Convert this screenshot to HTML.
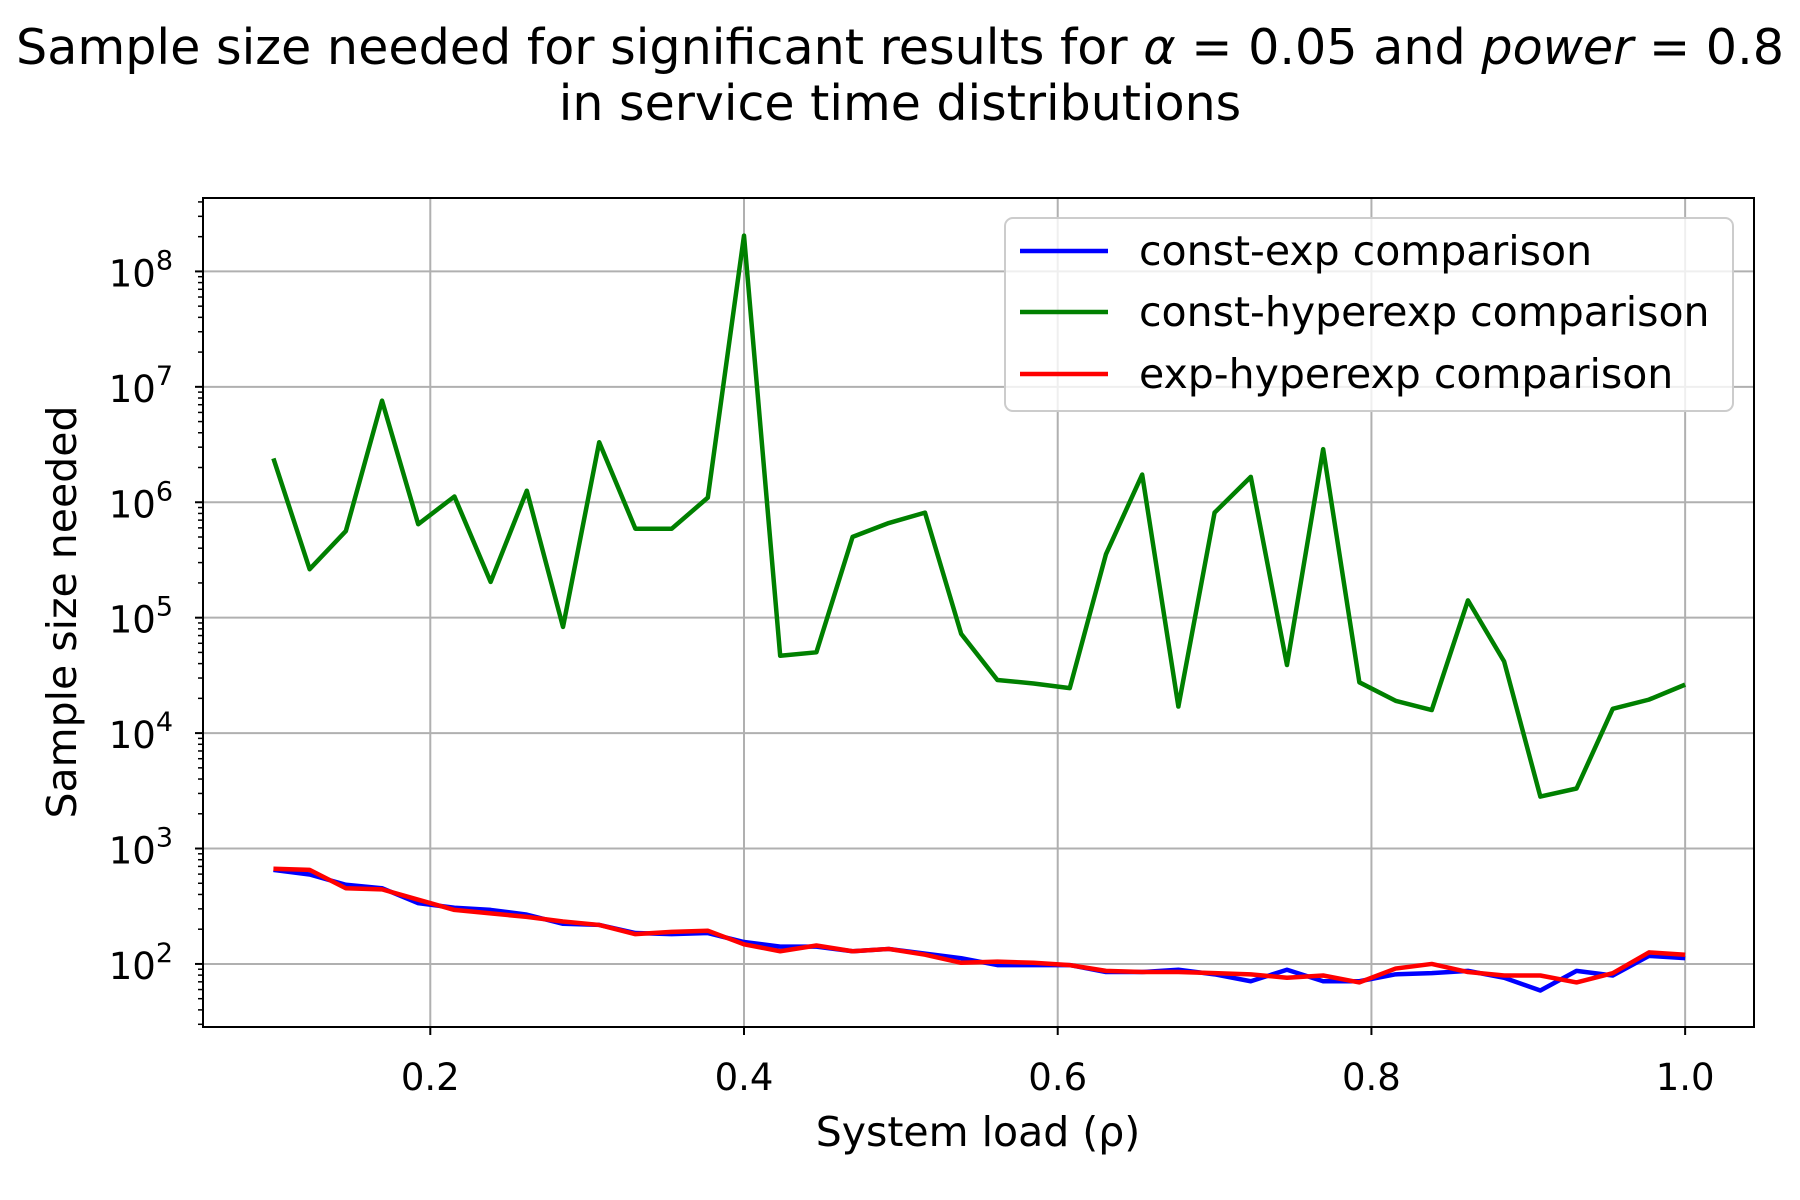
<!DOCTYPE html>
<html><head><meta charset="utf-8"><style>
body{margin:0;background:#fff}
svg{display:block;font-family:"DejaVu Sans","Liberation Sans",sans-serif}
</style></head><body>
<svg id="chart" width="1800" height="1200" viewBox="0 0 1800 1200" xmlns="http://www.w3.org/2000/svg">
<rect width="1800" height="1200" fill="#fff"/>
<text x="900" y="64" font-size="49" text-anchor="middle" textLength="1768" lengthAdjust="spacingAndGlyphs">Sample size needed for significant results for <tspan font-style="italic">α</tspan> = 0.05 and <tspan font-style="italic">power</tspan> = 0.8</text>
<text x="900" y="120" font-size="49" text-anchor="middle">in service time distributions</text>
<g id="grid"></g>
<g id="series"></g>
<g id="axes"></g>
<text x="978" y="1146" font-size="41" text-anchor="middle">System load (ρ)</text>
<text transform="translate(76,612) rotate(-90)" font-size="41" text-anchor="middle">Sample size needed</text>
<g>
<rect x="1005" y="218" width="728" height="193" rx="8" fill="#fff" fill-opacity="0.8" stroke="#ccc" stroke-width="2"/>
<line x1="1020" y1="251" x2="1108" y2="251" stroke="#0000ff" stroke-width="4.5"/>
<text x="1139" y="265" font-size="41">const-exp comparison</text>
<line x1="1020" y1="312" x2="1108" y2="312" stroke="#008000" stroke-width="4.5"/>
<text x="1139" y="326" font-size="41">const-hyperexp comparison</text>
<line x1="1020" y1="374" x2="1108" y2="374" stroke="#ff0000" stroke-width="4.5"/>
<text x="1139" y="388" font-size="41">exp-hyperexp comparison</text>
</g>
</svg>
<script>
const loads = Array.from({length:40},(_, i)=>0.1+i*0.9/39);
const constHyperexpLog = [6.38,5.42,5.75,6.88,5.81,6.05,5.31,6.10,4.92,6.52,5.77,5.77,6.04,8.31,4.67,4.70,5.70,5.82,5.91,4.86,4.46,4.43,4.39,5.55,6.24,4.23,5.91,6.22,4.59,6.46,4.44,4.28,4.20,5.15,4.62,3.45,3.52,4.21,4.29,4.42];
const constExpLog = [2.815,2.775,2.686,2.656,2.527,2.487,2.468,2.427,2.348,2.338,2.268,2.258,2.268,2.19,2.15,2.15,2.11,2.13,2.09,2.05,1.99,1.99,1.99,1.93,1.93,1.95,1.91,1.85,1.95,1.85,1.85,1.91,1.92,1.94,1.88,1.77,1.94,1.90,2.07,2.05];
const expHyperexpLog = [2.825,2.815,2.656,2.646,2.557,2.468,2.438,2.408,2.368,2.338,2.258,2.278,2.288,2.17,2.11,2.16,2.11,2.13,2.08,2.01,2.02,2.01,1.99,1.94,1.93,1.93,1.92,1.91,1.88,1.90,1.84,1.96,2.00,1.93,1.90,1.90,1.84,1.92,2.10,2.08];
const xTicks = [0.2,0.4,0.6,0.8,1.0];
const yDecades = [2,3,4,5,6,7,8];

const NS="http://www.w3.org/2000/svg";
const L=203,R=1754,T=198,B=1027;
const xMin=0.0551,xMax=1.0439,yMin=1.4537,yMax=8.636;
const xs=v=>L+(v-xMin)/(xMax-xMin)*(R-L);
const ys=v=>B-(v-yMin)/(yMax-yMin)*(B-T);
function mk(tag,attrs,parent){const e=document.createElementNS(NS,tag);for(const k in attrs)e.setAttribute(k,attrs[k]);parent.appendChild(e);return e;}
const grid=document.getElementById('grid'),axes=document.getElementById('axes'),ser=document.getElementById('series');
xTicks.forEach(t=>{
  const g=mk('line',{x1:xs(t),x2:xs(t),y1:T,y2:B,stroke:'#b0b0b0','stroke-width':2},grid);
  
  
  mk('line',{x1:xs(t),x2:xs(t),y1:B,y2:B+8,stroke:'#000','stroke-width':2},axes);
  const tx=mk('text',{x:xs(t),y:B+63,'font-size':37,'text-anchor':'middle'},axes);
  tx.textContent=t.toFixed(1);
  
  
});
for(let d=1;d<=8;d++){
  for(let m=2;m<10;m++){
    const v=d+Math.log10(m);
    if(v<yMin||v>yMax)continue;
    mk('line',{x1:L-5,x2:L,y1:ys(v),y2:ys(v),stroke:'#000','stroke-width':1.5},axes);
  }
}
yDecades.forEach(d=>{
  const g=mk('line',{x1:L,x2:R,y1:ys(d),y2:ys(d),stroke:'#b0b0b0','stroke-width':2},grid);
  
  
  mk('line',{x1:L-8,x2:L,y1:ys(d),y2:ys(d),stroke:'#000','stroke-width':2},axes);
  const tx=mk('text',{x:L-30,y:ys(d)+15,'font-size':37,'text-anchor':'end'},axes);
  
  
  const a=mk('tspan',{},tx);a.textContent='10';
  const b=mk('tspan',{dy:-17,'font-size':27},tx);b.textContent=String(d);
});
const frame=mk('rect',{x:L,y:T,width:R-L,height:B-T,fill:'none',stroke:'#000','stroke-width':2},axes);


function line(arr,color,name){
  const p=mk('polyline',{points:arr.map((v,i)=>xs(loads[i])+','+ys(v)).join(' '),fill:'none',stroke:color,'stroke-width':4.5,'stroke-linejoin':'round'},ser);
  
  
}
line(constExpLog,'#0000ff','const-exp-line');
line(constHyperexpLog,'#008000','const-hyperexp-line');
line(expHyperexpLog,'#ff0000','exp-hyperexp-line');
</script>
</body></html>
